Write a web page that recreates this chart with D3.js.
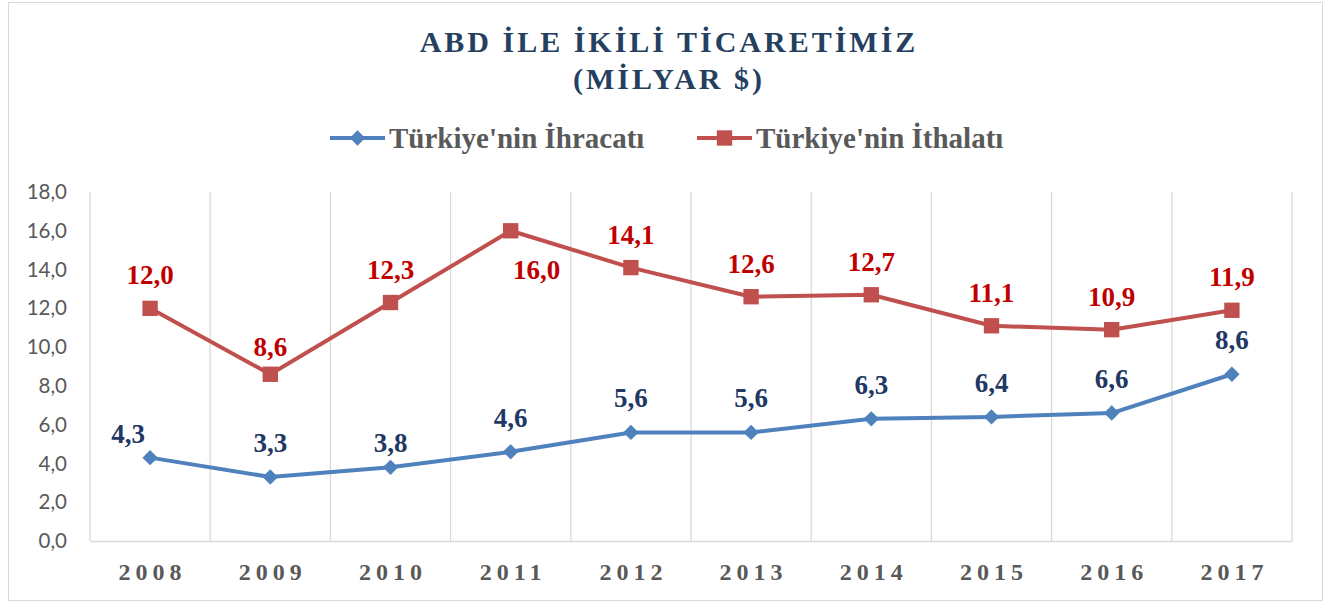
<!DOCTYPE html>
<html>
<head>
<meta charset="utf-8">
<script src="https://cdn.jsdelivr.net/npm/d3@7"></script>
<style>
  body { margin: 0; background: #fff; }
  svg { display: block; }
</style>
</head>
<body>
<div id="chart"></div>
<script>
// data
const years = ['2008', '2009', '2010', '2011', '2012', '2013', '2014', '2015', '2016', '2017'];
const exports = [4.3, 3.3, 3.8, 4.6, 5.6, 5.6, 6.3, 6.4, 6.6, 8.6];
const imports = [12.0, 8.6, 12.3, 16.0, 14.1, 12.6, 12.7, 11.1, 10.9, 11.9];
const yTicks = [0, 2, 4, 6, 8, 10, 12, 14, 16, 18];
const titleLines = ['ABD İLE İKİLİ TİCARETİMİZ', '(MİLYAR $)'];
const seriesNames = ["Türkiye'nin İhracatı", "Türkiye'nin İthalatı"];

// label nudges (Excel moved a few of them)
const exportLabelShift = { '2008': [-22, 10], '2010': [0, 10] };
const importLabelShift = { '2009': [0, 6], '2011': [26, 72] };

const W = 1332, H = 603;
const margin = { top: 192, right: 40, bottom: 62, left: 90 };
const serif = "'Liberation Serif', 'DejaVu Serif', serif";
const sans = "Lato, 'Noto Sans', sans-serif";

const svg = d3.select('#chart').append('svg')
  .attr('width', W)
  .attr('height', H);

svg.append('rect')
  .attr('x', 8.5).attr('y', 2.5)
  .attr('width', 1314).attr('height', 598)
  .attr('fill', '#fff')
  .attr('stroke', '#d9d9d9')
  .attr('stroke-width', 1);

const x = d3.scaleBand()
  .domain(years)
  .range([margin.left, W - margin.right]);

const y = d3.scaleLinear()
  .domain([0, 18])
  .range([H - margin.bottom, margin.top]);

const cx = d => x(d) + x.bandwidth() / 2;

// title
const title = svg.append('text')
  .attr('text-anchor', 'middle')
  .attr('font-family', serif)
  .attr('font-weight', 'bold')
  .attr('font-size', 30)
  .attr('letter-spacing', 3)
  .attr('fill', '#243f60');
title.selectAll('tspan')
  .data(titleLines)
  .enter().append('tspan')
  .attr('x', W / 2 + 3)
  .attr('y', (d, i) => 52 + i * 37)
  .text(d => d);

// vertical category gridlines
const grid = svg.append('g');
grid.selectAll('line')
  .data(years.concat(['end']))
  .enter().append('line')
  .attr('x1', (d, i) => i < years.length ? x(d) : x.range()[1])
  .attr('x2', (d, i) => i < years.length ? x(d) : x.range()[1])
  .attr('y1', y(18))
  .attr('y2', y(0))
  .attr('stroke', '#d9d9d9')
  .attr('stroke-width', 1.3);

// x axis
const xAxis = svg.append('g')
  .attr('transform', `translate(0,${y(0)})`)
  .call(d3.axisBottom(x).tickSize(0).tickPadding(22));
xAxis.select('.domain').attr('stroke', '#d9d9d9').attr('stroke-width', 1.5);
xAxis.selectAll('text')
  .attr('font-family', serif)
  .attr('font-weight', 'bold')
  .attr('font-size', 24)
  .attr('letter-spacing', 5)
  .attr('dx', 2.5)
  .attr('fill', '#595959');

// y axis
const yAxis = svg.append('g')
  .attr('transform', `translate(${margin.left},0)`)
  .call(d3.axisLeft(y).tickValues(yTicks).tickSize(0).tickPadding(23)
    .tickFormat(d => d3.format('.1f')(d).replace('.', ',')));
yAxis.select('.domain').remove();
yAxis.selectAll('text')
  .attr('font-family', sans)
  .attr('font-size', 20.5)
  .attr('fill', '#595959');

const fmt = v => d3.format('.1f')(v).replace('.', ',');

function drawSeries(values, color, labelColor, marker, shifts, labelOffset) {
  const pts = years.map((yr, i) => ({ yr, v: values[i] }));
  const line = d3.line()
    .x(d => cx(d.yr))
    .y(d => y(d.v));

  svg.append('path')
    .datum(pts)
    .attr('fill', 'none')
    .attr('stroke', color)
    .attr('stroke-width', 4)
    .attr('stroke-linejoin', 'round')
    .attr('d', line);

  svg.append('g').selectAll('path')
    .data(pts)
    .enter().append('path')
    .attr('transform', d => `translate(${cx(d.yr)},${y(d.v)})`)
    .attr('d', marker)
    .attr('fill', color);

  svg.append('g').selectAll('text')
    .data(pts)
    .enter().append('text')
    .attr('x', d => cx(d.yr) + (shifts[d.yr] ? shifts[d.yr][0] : 0))
    .attr('y', d => y(d.v) + labelOffset + (shifts[d.yr] ? shifts[d.yr][1] : 0))
    .attr('text-anchor', 'middle')
    .attr('font-family', serif)
    .attr('font-weight', 'bold')
    .attr('font-size', 27)
    .attr('fill', labelColor)
    .text(d => fmt(d.v));
}

const diamond = d3.symbol().type(d3.symbolDiamond2).size(150)();
const square = d3.symbol().type(d3.symbolSquare2).size(300)();

drawSeries(imports, '#c0504d', '#c00000', square, importLabelShift, -24);
drawSeries(exports, '#4f81bd', '#1f3864', diamond, exportLabelShift, -25);

// legend
const legend = svg.append('g');
const legendItems = [
  { name: seriesNames[0], color: '#4f81bd', marker: diamond, x: 330 },
  { name: seriesNames[1], color: '#c0504d', marker: square, x: 697 }
];
legendItems.forEach(it => {
  const g = legend.append('g').attr('transform', `translate(${it.x},138)`);
  g.append('line')
    .attr('x1', 0).attr('x2', 55)
    .attr('stroke', it.color)
    .attr('stroke-width', 4);
  g.append('path')
    .attr('transform', 'translate(27.5,0)')
    .attr('d', it.marker)
    .attr('fill', it.color);
  g.append('text')
    .attr('x', 59)
    .attr('y', 10)
    .attr('font-family', serif)
    .attr('font-weight', 'bold')
    .attr('font-size', 29)
    .attr('fill', '#595959')
    .text(it.name);
});
</script>
</body>
</html>
